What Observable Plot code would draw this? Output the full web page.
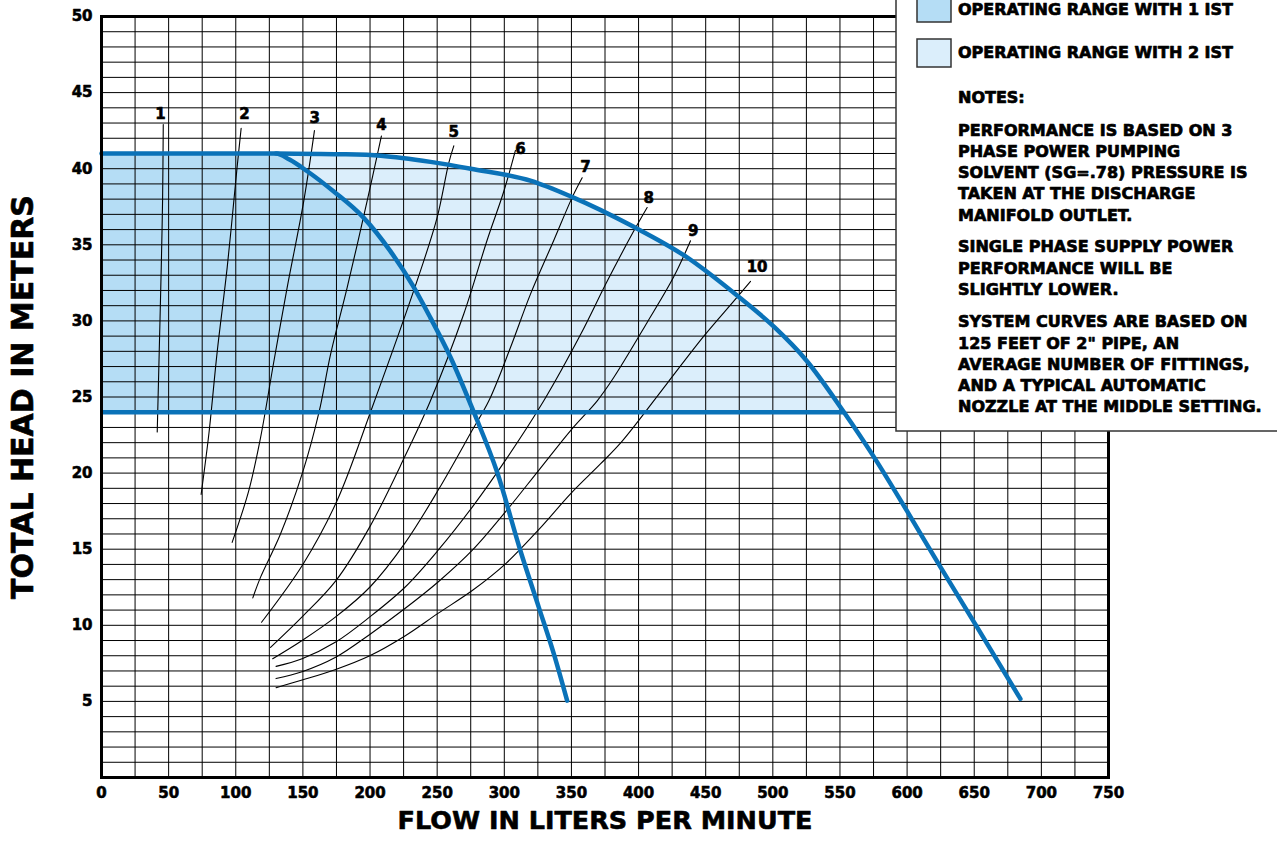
<!DOCTYPE html>
<html><head><meta charset="utf-8">
<script src="https://cdn.jsdelivr.net/npm/d3@7"></script>
<script src="https://cdn.jsdelivr.net/npm/@observablehq/plot@0.6"></script>
<style>
html,body{margin:0;padding:0;background:#fff;}
#chart{position:relative;width:1277px;height:848px;overflow:hidden;}
#chart svg text{paint-order:stroke;stroke:#000;stroke-width:0.6px;stroke-linejoin:round;}
#chart g[aria-label="x-title"] text,#chart g[aria-label="y-title"] text{stroke-width:1.2px;}
#chart g[aria-label="y-title"] text{letter-spacing:1px;}
#chart g[aria-label="legend"] text{text-anchor:start;stroke-width:0.7px;}
</style></head><body><div id="chart"></div>
<script>
// ---- data (flow in L/min, head in m) ----
const flowTicks = [0,50,100,150,200,250,300,350,400,450,500,550,600,650,700,750];
const headTicks = [5,10,15,20,25,30,35,40,45,50];
const minHead = 24;
const pump1 = [[0,41],[130,41],[140,40.6],[153,39.85],[173,38.5],[195,36.8],[215,34.6],[232,32.3],[245,30.2],[260,27.6],[277.3,24],[294.7,20.05],[312,14.9],[325.7,11.18],[336.9,8.12],[346.8,5.05]];
const pump2 = [[130,41],[178,40.95],[208,40.85],[245,40.45],[275,40.0],[320,39.2],[349,38.2],[396,36.2],[434,34.3],[475,31.55],[501,29.6],[525,27.4],[553,24],[575,21.1],[600,17.5],[625,13.8],[652,9.9],[684.4,5.17]];
const sys1 = [[41.5,22.7],[43,28],[44.5,33.5],[45.5,38],[46,42.9]];
const sys2 = [[74.2,18.6],[80,22.6],[86.2,28],[93.6,33.5],[101,40.1],[104,42.65]];
const sys3 = [[97.3,15.45],[109.7,18.85],[118.4,22.3],[128.3,27.3],[138.3,32.2],[150.7,37.9],[158.6,42.5]];
const sys4 = [[112.7,11.8],[118.4,13.15],[133.3,16],[150.2,20.16],[162,24],[170.6,27.8],[183,32.2],[197.9,37.9],[208.5,42.15]];
const sys5 = [[119.2,10.2],[150.2,14.03],[175.5,18.2],[200.3,24],[237.6,33.3],[250,36.8],[258.7,40.4],[262.4,41.5]];
const sys6 = [[125.9,8.55],[149.4,10.55],[174.9,12.97],[200,16.5],[226,21.1],[245,24.75],[269.8,30.45],[287.2,35.3],[299.6,38.5],[308.3,41.2]];
const sys7 = [[127.5,7.8],[149.4,9.0],[174.4,10.55],[199.8,12.5],[226,15.4],[250.9,18.9],[276.4,22.86],[288.5,24.75],[304.6,28.25],[319.5,31.76],[336.9,35.3],[350.5,38.1],[358,39.4]];
const sys8 = [[130,7.3],[149.4,7.8],[174.4,8.9],[199.8,10.55],[226,12.5],[250.9,14.95],[276.4,17.8],[301.3,20.9],[329.4,24.75],[356.8,29.1],[376.6,32.6],[396.4,35.9],[406.4,37.45]];
const sys9 = [[130,6.5],[149.4,6.95],[174.4,7.9],[199.8,9.4],[226,11.1],[250.9,12.86],[276.4,14.95],[301.3,17.5],[325.8,20.2],[350,22.86],[369.2,24.75],[381.5,26.28],[406.4,29.9],[426.2,32.9],[438.7,35.26]];
const sys10 = [[130,5.9],[149.4,6.4],[174.4,7.1],[199.8,8.0],[226,9.3],[250.9,10.8],[276.4,12.3],[301.3,14.07],[325.8,16.3],[350,18.7],[371.6,20.6],[387.8,22.1],[421.3,25.9],[448.6,29.0],[470.9,31.3],[483.4,32.6]];
const sysLabels = ["1","2","3","4","5","6","7","8","9","10"];
const labelFlow = [44,106.5,158.8,208.5,262.4,312,360.5,407.6,440.7,488.3];
const labelHead = [43.6,43.6,43.35,42.88,42.4,41.3,40.07,38.04,35.9,33.5];
const legendItems = ["OPERATING RANGE WITH 1 IST","OPERATING RANGE WITH 2 IST"];
const notesLines = [
  ["NOTES:"],
  ["PERFORMANCE IS BASED ON 3","PHASE POWER PUMPING","SOLVENT (SG=.78) PRESSURE IS","TAKEN AT THE DISCHARGE","MANIFOLD OUTLET."],
  ["SINGLE PHASE SUPPLY POWER","PERFORMANCE WILL BE","SLIGHTLY LOWER."],
  ["SYSTEM CURVES ARE BASED ON","125 FEET OF 2\" PIPE, AN","AVERAGE NUMBER OF FITTINGS,","AND A TYPICAL AUTOMATIC","NOZZLE AT THE MIDDLE SETTING."]
];
const xTitle = "FLOW IN LITERS PER MINUTE";
const yTitle = "TOTAL HEAD IN METERS";

// ---- derived tables ----
const BLUE = "#0a72b8", FILL1 = "#b5ddf5", FILL2 = "#dbeefb";
const toObj = ([q,h]) => ({q,h});
const p1 = pump1.map(toObj), p2 = pump2.map(toObj);
const p1Area = p1.filter(d => d.h >= minHead);
const p2Area = p2.filter(d => d.h >= minHead);
const p2Cross = p2Area[p2Area.length-1].q;
const systemCurves = [sys1,sys2,sys3,sys4,sys5,sys6,sys7,sys8,sys9,sys10];
const sysData = systemCurves.flatMap((pts,i) => pts.map(([q,h]) => ({curve: sysLabels[i], q, h})));
const labData = sysLabels.map((t,i) => ({t, q: labelFlow[i], h: labelHead[i]}));
const xGrid = d3.range(25, 750, 25);
const yGrid = d3.range(1, 50, 1);

const svg = Plot.plot({
  width: 1277, height: 848,
  marginTop: 16, marginLeft: 101, marginRight: 169, marginBottom: 71,
  style: {fontFamily: "'DejaVu Sans', sans-serif", fontSize: "15px", fontWeight: "bold", color: "#000", background: "#fff", overflow: "visible"},
  x: {domain: [0, 750], ticks: flowTicks, tickSize: 0, tickPadding: 10, label: null},
  y: {domain: [0, 50], ticks: headTicks, tickSize: 0, tickPadding: 9, label: null},
  marks: [
    Plot.areaY(p2Area, {x: "q", y1: minHead, y2: "h", fill: FILL2, curve: "monotone-x"}),
    Plot.areaY(p1Area, {x: "q", y1: minHead, y2: "h", fill: FILL1, curve: "monotone-x"}),
    Plot.ruleX(xGrid, {stroke: "#000", strokeWidth: 1}),
    Plot.ruleY(yGrid, {stroke: "#000", strokeWidth: 1}),
    Plot.line(sysData, {x: "q", y: "h", z: "curve", stroke: "#000", strokeWidth: 1.1, curve: "catmull-rom"}),
    Plot.ruleY([minHead], {x1: 0, x2: p2Cross, stroke: BLUE, strokeWidth: 4.5}),
    Plot.line(p1, {x: "q", y: "h", stroke: BLUE, strokeWidth: 4.5, curve: "monotone-x"}),
    Plot.line(p2, {x: "q", y: "h", stroke: BLUE, strokeWidth: 4.5, curve: "monotone-x"}),
    Plot.text(labData, {x: "q", y: "h", text: "t", fontSize: 15, fontWeight: "bold"}),
    Plot.frame({stroke: "#000", strokeWidth: 3}),
    Plot.text([xTitle], {frameAnchor: "bottom", dy: 33, lineAnchor: "top", textAnchor: "middle", text: d => d, fontSize: 25.5, fontWeight: "bold", ariaLabel: "x-title"}),
    Plot.text([yTitle], {frameAnchor: "left", dx: -78, rotate: -90, lineAnchor: "middle", textAnchor: "middle", text: d => d, fontSize: 30, fontWeight: "bold", ariaLabel: "y-title"})
  ]
});
document.getElementById("chart").appendChild(svg);

// ---- legend / notes box ----
const g = d3.select(svg).append("g").attr("aria-label", "legend").attr("text-anchor", "start")
  .style("font-family", "'DejaVu Sans', sans-serif").style("font-weight", "bold").style("font-size", "16px");
g.append("rect").attr("x", 896).attr("y", -3).attr("width", 400).attr("height", 434)
  .attr("fill", "#fff").attr("stroke", "#333").attr("stroke-width", 1.5);
const swTop = [-6, 39], txtBase = [14.5, 57.7], swFill = [FILL1, FILL2];
legendItems.forEach((t, i) => {
  g.append("rect").attr("x", 917).attr("y", swTop[i]).attr("width", 34).attr("height", 28)
    .attr("fill", swFill[i]).attr("stroke", "#333").attr("stroke-width", 1.5);
  g.append("text").attr("x", 958).attr("y", txtBase[i]).attr("fill", "#000").text(t);
});
const paraStart = [103.3, 135.7, 252.3, 327.3];
notesLines.forEach((lines, p) => {
  lines.forEach((ln, j) => {
    g.append("text").attr("x", 958).attr("y", paraStart[p] + j * 21.25).attr("fill", "#000").text(ln);
  });
});
</script></body></html>
